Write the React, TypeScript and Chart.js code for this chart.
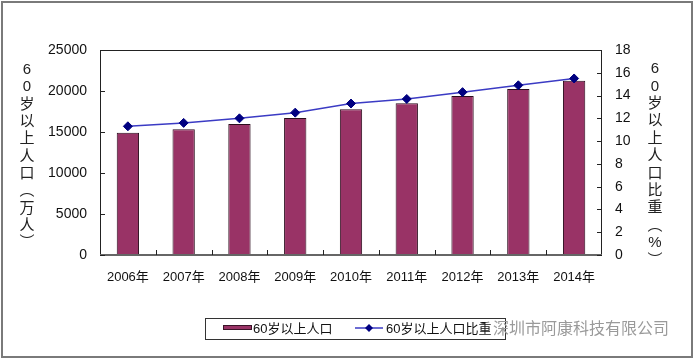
import React, { useEffect, useRef } from "react";
import { Chart, registerables } from "chart.js";

Chart.register(...registerables);

const categories = ["2006年", "2007年", "2008年", "2009年", "2010年", "2011年", "2012年", "2013年", "2014年"];
const population = [14901, 15340, 15989, 16714, 17765, 18499, 19390, 20243, 21242];
const ratio = [11.3, 11.6, 12.0, 12.5, 13.3, 13.7, 14.3, 14.9, 15.5];
const barLabel = "60岁以上人口";
const lineLabel = "60岁以上人口比重";
const leftTitle = ["6", "0", "岁", "以", "上", "人", "口", "︵", "万", "人", "︶"];
const rightTitle = ["6", "0", "岁", "以", "上", "人", "口", "比", "重", "︵", "%", "︶"];
const watermark = "深圳市阿康科技有限公司";

const FONT = "'Liberation Sans', Arial, 'Noto Sans CJK SC', sans-serif";
const CJK = "'Liberation Sans', 'Noto Sans CJK SC', sans-serif";
const BAR_COLOR = "#993366";
const LINE_COLOR = "#3b3bc4";
const MARKER_COLOR = "#000080";

const decorPlugin = {
  id: "decor",
  beforeDraw(chart: any) {
    const ctx = chart.ctx;
    ctx.save();
    ctx.fillStyle = "#ffffff";
    ctx.fillRect(0, 0, chart.width, chart.height);
    ctx.restore();
  },
  afterDatasetsDraw(chart: any) {
    const ctx = chart.ctx;
    const a = chart.chartArea;
    const x = chart.scales.x;
    const y = chart.scales.y;
    const y1 = chart.scales.y1;
    ctx.save();
    ctx.strokeStyle = "#222";
    ctx.lineWidth = 1;
    ctx.strokeRect(a.left + 0.5, a.top + 0.5, a.right - a.left - 1, a.bottom - a.top);
    ctx.strokeStyle = "#666";
    ctx.lineWidth = 2;
    ctx.beginPath();
    ctx.moveTo(a.left, a.bottom);
    ctx.lineTo(a.right, a.bottom);
    ctx.stroke();
    ctx.strokeStyle = "#222";
    ctx.lineWidth = 1;
    ctx.beginPath();
    y.ticks.forEach((_t: any, i: number) => {
      const py = Math.round(y.getPixelForTick(i)) + 0.5;
      ctx.moveTo(a.left, py);
      ctx.lineTo(a.left + 5, py);
    });
    y1.ticks.forEach((_t: any, i: number) => {
      const py = Math.round(y1.getPixelForTick(i)) + 0.5;
      ctx.moveTo(a.right - 5, py);
      ctx.lineTo(a.right, py);
    });
    for (let i = 1; i < categories.length; i++) {
      const px = Math.round((x.getPixelForValue(i - 1) + x.getPixelForValue(i)) / 2) + 0.5;
      ctx.moveTo(px, a.bottom - 5);
      ctx.lineTo(px, a.bottom);
    }
    ctx.stroke();
    ctx.restore();
  },
  afterDraw(chart: any) {
    const ctx = chart.ctx;
    ctx.save();
    ctx.strokeStyle = "#7a7a7a";
    ctx.lineWidth = 2;
    ctx.strokeRect(2, 2, 690, 355);

    ctx.fillStyle = "#222";
    ctx.font = `15px ${CJK}`;
    ctx.textAlign = "center";
    ctx.textBaseline = "middle";
    leftTitle.forEach((c, i) => ctx.fillText(c, 27, 70 + i * 17.3));
    rightTitle.forEach((c, i) => ctx.fillText(c, 655, 69 + i * 17.4));

    ctx.strokeStyle = "#333";
    ctx.lineWidth = 1;
    ctx.strokeRect(205.5, 318.5, 300, 21);
    ctx.fillStyle = BAR_COLOR;
    ctx.fillRect(223, 325, 29, 5);
    ctx.strokeStyle = "#3a1428";
    ctx.strokeRect(223.5, 325.5, 28, 4);
    ctx.fillStyle = "#111";
    ctx.font = `13px ${CJK}`;
    ctx.textAlign = "left";
    ctx.fillText(barLabel, 253, 329);
    ctx.strokeStyle = LINE_COLOR;
    ctx.lineWidth = 1.5;
    ctx.beginPath();
    ctx.moveTo(355, 328);
    ctx.lineTo(383, 328);
    ctx.stroke();
    ctx.fillStyle = MARKER_COLOR;
    ctx.beginPath();
    ctx.moveTo(369, 324);
    ctx.lineTo(373, 328);
    ctx.lineTo(369, 332);
    ctx.lineTo(365, 328);
    ctx.closePath();
    ctx.fill();
    ctx.fillStyle = "#111";
    ctx.fillText(lineLabel, 386, 329);

    ctx.fillStyle = "#9a9a9a";
    ctx.font = `16px 'Noto Sans CJK SC', sans-serif`;
    ctx.fillText(watermark, 493, 328);
    ctx.restore();
  },
};

export default function App() {
  const ref = useRef<HTMLCanvasElement | null>(null);
  useEffect(() => {
    if (!ref.current) return;
    const chart = new Chart(ref.current, {
      type: "bar",
      data: {
        labels: categories,
        datasets: [
          {
            type: "line",
            label: lineLabel,
            data: ratio,
            yAxisID: "y1",
            borderColor: LINE_COLOR,
            borderWidth: 1.5,
            pointStyle: "rectRot",
            pointRadius: 4.5,
            pointBackgroundColor: MARKER_COLOR,
            pointBorderColor: MARKER_COLOR,
            pointBorderWidth: 1,
            tension: 0,
            order: 0,
          } as any,
          {
            type: "bar",
            label: barLabel,
            data: population,
            yAxisID: "y",
            backgroundColor: BAR_COLOR,
            borderColor: "#2a0c1c",
            borderWidth: 1,
            barPercentage: 0.4,
            categoryPercentage: 1,
            order: 1,
          },
        ],
      },
      options: {
        animation: false,
        responsive: false,
        maintainAspectRatio: false,
        layout: { padding: { top: 50, left: 0, right: 0, bottom: 0 } },
        plugins: { legend: { display: false }, tooltip: { enabled: false } },
        scales: {
          x: {
            grid: { display: false, drawTicks: false },
            border: { display: false },
            ticks: { padding: 15, color: "#111", font: { size: 13, family: CJK }, maxRotation: 0, autoSkip: false },
            afterFit: (s: any) => { s.height = 107; },
          },
          y: {
            position: "left",
            min: 0,
            max: 25000,
            ticks: { stepSize: 5000, padding: 13, color: "#111", font: { size: 14, family: FONT }, callback: (v: any) => String(v) },
            grid: { display: false, drawTicks: false },
            border: { display: false },
            afterFit: (s: any) => { s.width = 100; },
          },
          y1: {
            position: "right",
            min: 0,
            max: 18,
            ticks: { stepSize: 2, padding: 13, color: "#111", font: { size: 14, family: FONT }, callback: (v: any) => String(v) },
            grid: { display: false, drawTicks: false },
            border: { display: false },
            afterFit: (s: any) => { s.width = 93; },
          },
        },
      },
      plugins: [decorPlugin],
    });
    return () => chart.destroy();
  }, []);
  return (
    <div style={{ position: "absolute", left: 0, top: 0, width: 695, height: 362 }}>
      <canvas ref={ref} width={695} height={362} style={{ width: 695, height: 362, display: "block" }} />
    </div>
  );
}
